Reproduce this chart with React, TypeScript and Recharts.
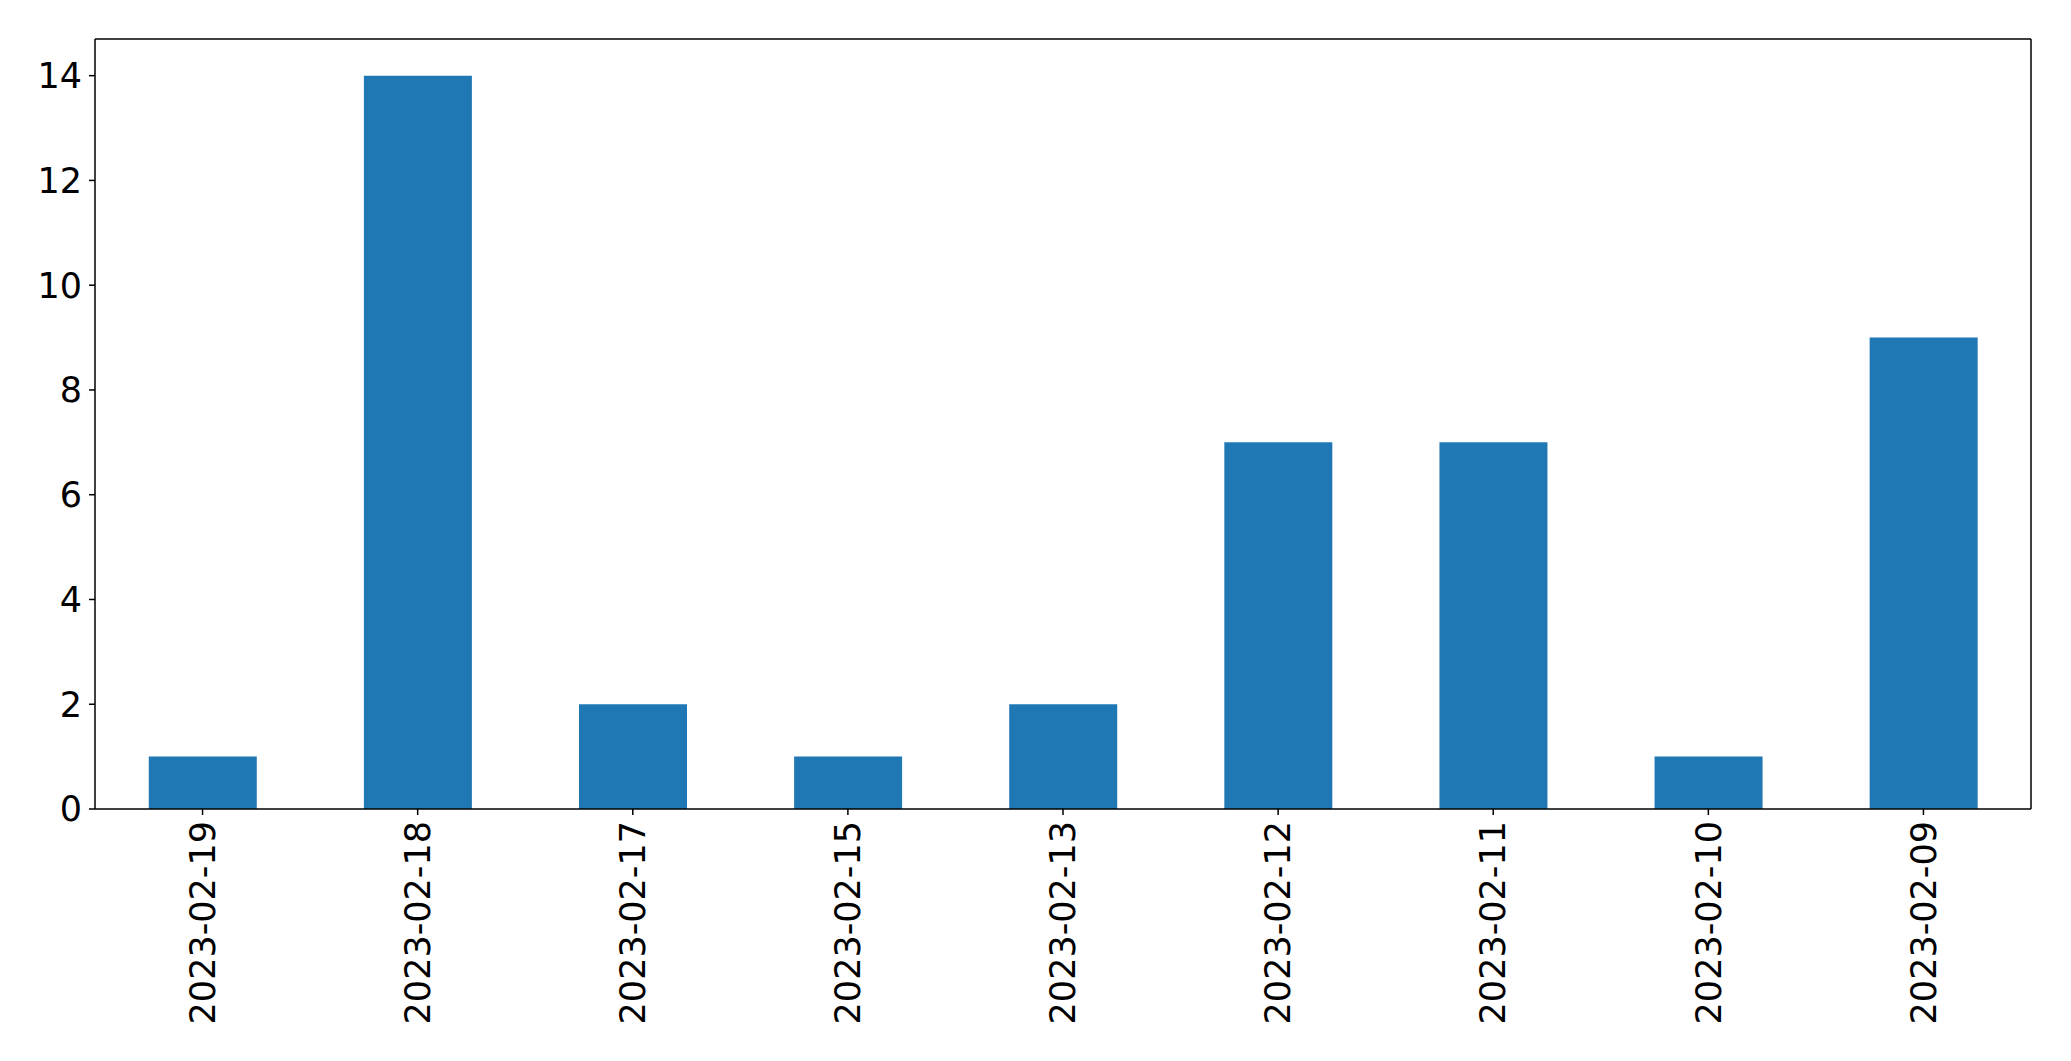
import { Bar, BarChart, XAxis, YAxis } from "recharts";

const dates = [
	"2023-02-19",
	"2023-02-18",
	"2023-02-17",
	"2023-02-15",
	"2023-02-13",
	"2023-02-12",
	"2023-02-11",
	"2023-02-10",
	"2023-02-09",
];
const counts = [1, 14, 2, 1, 2, 7, 7, 1, 9];
const yTicks = [0, 2, 4, 6, 8, 10, 12, 14];

const data = dates.map((d, i) => ({ date: d, count: counts[i] }));

const font = "DejaVu Sans";

function DateTick({ x, y, payload }: { x?: number; y?: number; payload?: { value: string } }) {
	return (
		<g transform={`translate(${x},${y})`}>
			<text
				transform="rotate(-90)"
				textAnchor="end"
				dy="0.35em"
				fontSize={35}
				fontFamily={font}
				fill="#000"
			>
				{payload?.value}
			</text>
		</g>
	);
}

export default function App() {
	return (
		<div style={{ position: "absolute", left: 0, top: 0, background: "#fff" }}>
			<BarChart
				width={2071}
				height={1061}
				data={data}
				margin={{ top: 38, right: 39, left: 0, bottom: 12 }}
				barCategoryGap="25%"
			>
				<XAxis
					dataKey="date"
					interval={0}
					height={240}
					tick={<DateTick />}
					tickSize={6}
					tickMargin={6}
					stroke="#000"
					tickLine={{ stroke: "#000", strokeWidth: 1.5 }}
					axisLine={{ stroke: "#000", strokeWidth: 1.5 }}
				/>
				<XAxis
					xAxisId="top"
					orientation="top"
					dataKey="date"
					height={1}
					tick={false}
					tickLine={false}
					axisLine={{ stroke: "#000", strokeWidth: 1.5 }}
				/>
				<YAxis
					domain={[0, 14.7]}
					ticks={yTicks}
					width={95}
					tickSize={6}
					tickMargin={7}
					allowDataOverflow
					tick={{ fontSize: 35, fontFamily: font, fill: "#000" }}
					tickLine={{ stroke: "#000", strokeWidth: 1.5 }}
					axisLine={{ stroke: "#000", strokeWidth: 1.5 }}
				/>
				<YAxis
					yAxisId="right"
					orientation="right"
					width={1}
					tick={false}
					tickLine={false}
					axisLine={{ stroke: "#000", strokeWidth: 1.5 }}
				/>
				<Bar dataKey="count" fill="#1f77b4" isAnimationActive={false} />
			</BarChart>
		</div>
	);
}
